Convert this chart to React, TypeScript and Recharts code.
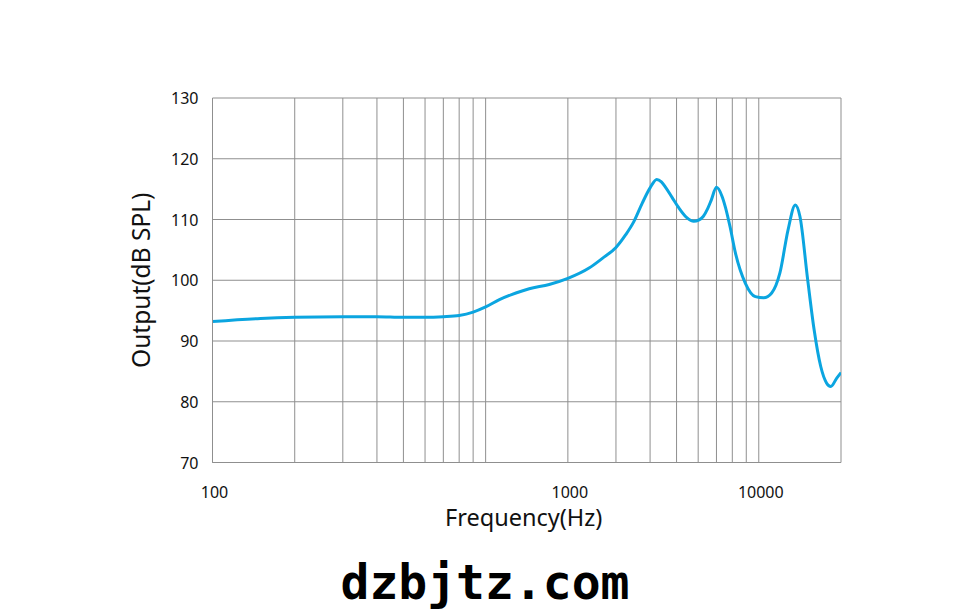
import React from "react";
import { LineChart, Line, XAxis, YAxis, CartesianGrid, Label } from "recharts";

const freqs = [100, 150, 200, 300, 400, 500, 600, 700, 800, 900, 1000, 1123, 1291, 1444, 1709, 2000, 2391, 2675, 3000, 3257, 3492, 3745, 4000, 4230, 4400, 4559, 4820, 5098, 5450, 5783, 6020, 6260, 6500, 6700, 6999, 7340, 7551, 7850, 8212, 8932, 9718, 10420, 11150, 11950, 12800, 13604, 14150, 15100, 15940, 16860, 17700, 18350, 19300, 20000];
const spl = [93.2, 93.7, 93.9, 94.0, 94.0, 93.9, 93.9, 94.0, 94.2, 94.75, 95.6, 96.8, 97.9, 98.6, 99.3, 100.3, 102.0, 103.6, 105.4, 107.5, 109.7, 112.7, 115.2, 116.6, 116.2, 115.3, 113.6, 111.9, 110.3, 109.7, 109.9, 110.5, 111.8, 113.2, 115.3, 113.8, 112.0, 108.8, 104.5, 99.5, 97.3, 97.1, 97.9, 101.2, 108.3, 112.4, 110.5, 100.1, 91.9, 85.8, 83.1, 82.5, 83.9, 84.8];

const xGridTicks = [100, 200, 300, 400, 500, 600, 700, 800, 900, 1000, 2000, 3000, 4000, 5000, 6000, 7000, 8000, 9000, 10000, 20000];
const xLabelAt = [100, 2000, 10000];
const xLabelText = ["100", "1000", "10000"];
const yTicks = [70, 80, 90, 100, 110, 120, 130];

const data = freqs.map((f, i) => ({ freq: f, spl: spl[i] }));

const FONT = "'Noto Sans', sans-serif";
const GRID = "#8f8f8f";

const XTick = (props: any) => {
  const { x, y, payload } = props;
  const idx = xLabelAt.indexOf(payload.value);
  if (idx < 0) return null;
  return (
    <text x={x + 2} y={y + 21} textAnchor="middle" dominantBaseline="central" fontFamily={FONT} fontSize={16} fill="#111">
      {xLabelText[idx]}
    </text>
  );
};

const YTick = (props: any) => {
  const { x, y, payload } = props;
  return (
    <text x={x} y={y} textAnchor="end" dominantBaseline="central" fontFamily={FONT} fontSize={16} fill="#111">
      {payload.value}
    </text>
  );
};

export default function App() {
  return (
    <div style={{ position: "relative", width: 976, height: 605 }}>
      <LineChart width={976} height={605} data={data} margin={{ top: 90, right: 143, left: 144.5, bottom: 110.5 }}>
        <CartesianGrid stroke={GRID} strokeWidth={1} />
        <XAxis
          dataKey="freq"
          type="number"
          scale="log"
          domain={[100, 20000]}
          ticks={xGridTicks}
          allowDataOverflow
          height={40}
          tickLine={false}
          axisLine={{ stroke: GRID }}
          tick={<XTick />}
          interval={0}
        >
          <Label
            content={(p: any) => {
              const vb = p.viewBox;
              return (
                <text x={vb.x + vb.width / 2 - 3} y={vb.y + 54} textAnchor="middle" dominantBaseline="central" fontFamily={FONT} fontSize={23.5} fill="#111">
                  Frequency(Hz)
                </text>
              );
            }}
          />
        </XAxis>
        <YAxis
          type="number"
          domain={[70, 130]}
          ticks={yTicks}
          width={60}
          tickLine={false}
          axisLine={{ stroke: GRID }}
          tickSize={6}
          tickMargin={8}
          tick={<YTick />}
          interval={0}
        >
          <Label
            content={(p: any) => {
              const vb = p.viewBox;
              const cx = vb.x - 12;
              const cy = vb.y + vb.height / 2;
              return (
                <text x={cx} y={cy} transform={`rotate(-90 ${cx} ${cy})`} textAnchor="middle" dominantBaseline="central" fontFamily={FONT} fontSize={24.5} fill="#111">
                  Output(dB SPL)
                </text>
              );
            }}
          />
        </YAxis>
        <Line type="monotone" dataKey="spl" stroke="#0ba5e0" strokeWidth={3} dot={false} isAnimationActive={false} />
      </LineChart>
      <div
        style={{
          position: "absolute",
          left: 0,
          width: 954,
          top: 546,
          textAlign: "center",
          fontFamily: "'DejaVu Sans Mono', monospace",
          fontWeight: "bold",
          fontSize: 48,
          lineHeight: "56px",
          color: "#000",
        }}
      >
        dzbjtz.com
      </div>
    </div>
  );
}
